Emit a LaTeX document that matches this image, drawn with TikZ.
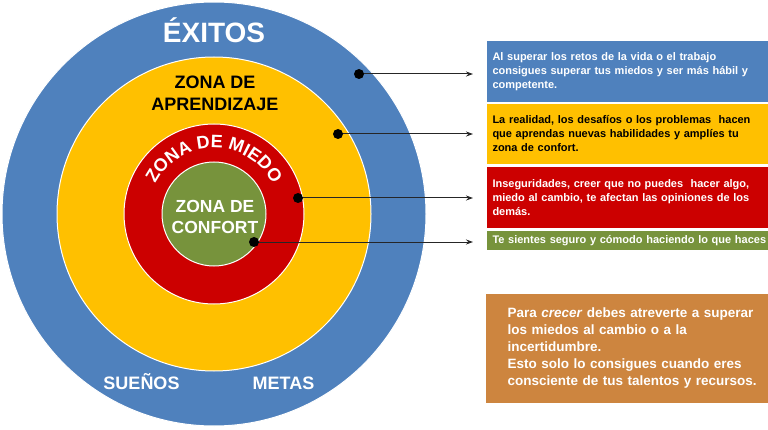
\documentclass[tikz,border=0pt]{standalone}
\usepackage{fontspec}
\setmainfont{Liberation Sans}
\usetikzlibrary{decorations.text,arrows.meta,calc}
\definecolor{cblue}{HTML}{4F81BD}
\definecolor{cyellow}{HTML}{FFC000}
\definecolor{cred}{HTML}{CC0000}
\definecolor{cgreen}{HTML}{77933C}
\definecolor{corange}{HTML}{CD853F}
\begin{document}
\begin{tikzpicture}[x=1pt,y=1pt,
  ring/.style={circle, draw=white, line width=1pt, inner sep=0pt},
  dot/.style={circle, fill=black, inner sep=0pt, minimum size=10pt},
  arr/.style={-{Stealth[length=7pt,width=5pt]}, line width=1pt, draw=black!85},
  infobox/.style={rectangle, draw=white, line width=1pt, anchor=north west,
    inner xsep=6pt, inner ysep=0pt, text width=276pt, align=left,
    font=\bfseries\fontsize{11}{14}\selectfont},
  lbl/.style={font=\bfseries\fontsize{18}{22}\selectfont, inner sep=0pt, anchor=base}
]
\useasboundingbox (0,0) rectangle (768,429);
\coordinate (C) at (214,215);
\node[ring, fill=cblue, minimum size=424pt] (rblue) at (C) {};
\node[ring, fill=cyellow, minimum size=314pt] (ryellow) at (C) {};
\node[ring, fill=cred, minimum size=180pt] (rred) at (C) {};
\node[ring, fill=cgreen, minimum size=104pt] (rgreen) at (C) {};

\node[lbl, font=\bfseries\fontsize{28}{28}\selectfont, text=white] (exitos) at (214,386) {ÉXITOS};
\node[lbl, text=black] (aprend) at (215,340) {\begin{tabular}[t]{@{}c@{}}ZONA DE\\APRENDIZAJE\end{tabular}};
\node[lbl, font=\bfseries\fontsize{17.5}{21}\selectfont, text=white] (confort) at (215,217) {\begin{tabular}[t]{@{}c@{}}ZONA DE\\CONFORT\end{tabular}};
\node[lbl, text=white] (suenos) at (141.5,40) {SUEÑOS};
\node[lbl, text=white] (metas) at (283.5,40) {METAS};
\path[decorate, decoration={text along path, text align=center,
  text={|\color{white}\bfseries\fontsize{18}{18}\selectfont|ZONA DE MIEDO}}]
  ($(C)+(160:66)$) arc[start angle=160, end angle=20, radius=66];

\node[infobox, fill=cblue, text=white, minimum height=62pt] (b1) at (486,389)
  {Al superar los retos de la vida o el trabajo\\consigues superar tus miedos y ser más hábil y\\competente.};
\node[infobox, fill=cyellow, text=black, minimum height=61pt] (b2) at (486,326)
  {La realidad, los desafíos o los problemas\ \ hacen\\que aprendas nuevas habilidades y amplíes tu\\zona de confort.};
\node[infobox, fill=cred, text=white, minimum height=62pt] (b3) at (486,263)
  {Inseguridades, creer que no puedes\ \ hacer algo,\\miedo al cambio, te afectan las opiniones de los\\demás.};
\node[infobox, fill=cgreen, text=white, minimum height=20pt] (b4) at (486,199)
  {Te sientes seguro y cómodo haciendo lo que haces};
\node[infobox, fill=corange, text=white, minimum height=110pt, inner xsep=22pt,
  text width=250pt, font=\bfseries\fontsize{13.5}{17}\selectfont] (b5) at (485,136)
  {Para \textit{crecer} debes atreverte a superar\\los miedos al cambio o a la\\incertidumbre.\\Esto solo lo consigues cuando eres\\consciente de tus talentos y recursos.};

\coordinate (d1) at (359,355);
\coordinate (d2) at (338,295);
\coordinate (d3) at (298,231);
\coordinate (d4) at (254,187);
\draw[arr] (d1) -- ($(d1 -| b1.west)+(-13,0)$);
\draw[arr] (d2) -- ($(d2 -| b2.west)+(-13,0)$);
\draw[arr] (d3) -- ($(d3 -| b3.west)+(-13,0)$);
\draw[arr] (d4) -- ($(d4 -| b4.west)+(-13,0)$);
\node[dot] (p1) at (d1) {};
\node[dot] (p2) at (d2) {};
\node[dot] (p3) at (d3) {};
\node[dot] (p4) at (d4) {};
\end{tikzpicture}
\end{document}
